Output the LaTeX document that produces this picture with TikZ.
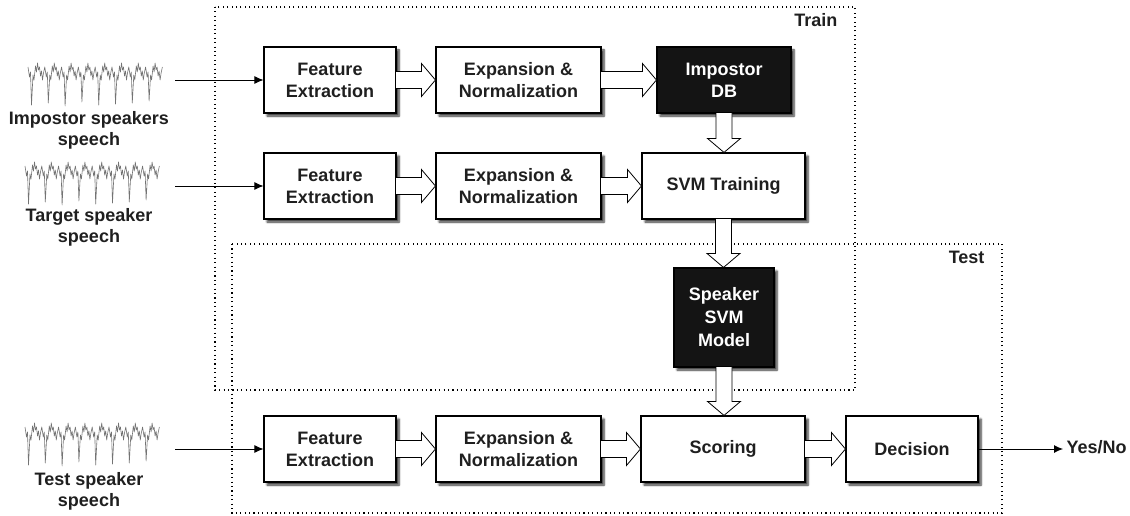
\documentclass[tikz,border=0pt]{standalone}
\usepackage{fontspec}
\setmainfont{Liberation Sans}
\usetikzlibrary{calc,arrows.meta,shadows.blur}

% one voiced speech segment: eight pitch periods with sharp dips
\newcommand\speechwave[2]{%
  \begin{scope}[shift={(#1,#2)}]
    \draw[wave] (0,4)
      \foreach \i/\d [evaluate=\i as \o using \i*16.8] in {0/42,1/40,2/43,3/39,4/42,5/41,6/40,7/38}{
        -- (\o+1.5,14) -- (\o+2.5,9) -- (\o+3.5,\d) -- (\o+5,12) -- (\o+6,17)
        -- (\o+7.5,3) -- (\o+8.5,9) -- (\o+9.5,0) -- (\o+10.5,7) -- (\o+11.5,4)
        -- (\o+12.5,13) -- (\o+13.5,8) -- (\o+14.5,17) -- (\o+15.5,10) -- (\o+16.8,4)
      };
  \end{scope}}

% wide hollow arrow between two boxes, left to right
\newcommand\harrow[2]{%
  \draw[hollow] let \p1=(#1.east), \p2=(#2.west) in
    (\x1-0.5pt,\y1+8.5pt) -- (\x2-14pt,\y1+8.5pt) -- (\x2-14pt,\y1+16.5pt)
    -- (\x2,\y1) -- (\x2-14pt,\y1-16.5pt) -- (\x2-14pt,\y1-8.5pt) -- (\x1-0.5pt,\y1-8.5pt);}

% wide hollow arrow between two boxes, top to bottom
\newcommand\varrow[2]{%
  \draw[hollow] let \p1=(#1.south), \p2=(#2.north) in
    (\x1-8pt,\y1+0.5pt) -- (\x1-8pt,\y2+14pt) -- (\x1-16.5pt,\y2+14pt)
    -- (\x1,\y2) -- (\x1+16.5pt,\y2+14pt) -- (\x1+8pt,\y2+14pt) -- (\x1+8pt,\y1+0.5pt);}

\begin{document}
\begin{tikzpicture}[x=1pt,y=-1pt,
  every node/.style={font=\fontsize{18}{22}\selectfont\bfseries, text=black!88},
  box/.style={draw=black, line width=1.1pt, fill=white, align=center, inner sep=0pt,
    blur shadow={shadow xshift=3pt, shadow yshift=-3pt, shadow blur radius=2pt,
      shadow blur steps=6, shadow opacity=80}},
  darkbox/.style={box, fill=black!92, text=white},
  label/.style={align=center, font=\fontsize{18}{21}\selectfont\bfseries},
  region/.style={line width=1.1pt, dash pattern=on 1.1pt off 3.3pt},
  hollow/.style={draw=black, fill=white, line width=0.8pt, line join=miter},
  thinarrow/.style={line width=0.9pt, -{Latex[length=9pt,width=8pt]}},
  wave/.style={draw=black!55, line width=0.6pt, line join=round}]

\useasboundingbox (0,0) rectangle (1130,516);

% training and test regions
\draw[region] (215,7) rectangle (855,390);
\draw[region] (232,244) rectangle (1002,513);
\node[anchor=base east] (trainlbl) at (841,27) {Train};
\node[anchor=base east] (testlbl) at (988,263) {Test};

% speech inputs
\speechwave{28}{63}
\speechwave{25}{162}
\speechwave{25}{423}
\node[label] (implbl) at (89,130) {Impostor speakers\\speech};
\node[label] (tarlbl) at (89,227) {Target speaker\\speech};
\node[label] (tstlbl) at (89,491) {Test speaker\\speech};
\coordinate (src1) at (175,80);
\coordinate (src2) at (175,186);
\coordinate (src3) at (175,449);

% processing blocks
\node[box, minimum width=132pt, minimum height=66pt] (fe1) at (330,80) {Feature\\Extraction};
\node[box, minimum width=165pt, minimum height=66pt] (ex1) at (518.5,80) {Expansion \&\\Normalization};
\node[darkbox, minimum width=134pt, minimum height=66pt] (imp) at (724,80) {Impostor\\DB};

\node[box, minimum width=132pt, minimum height=66pt] (fe2) at (330,186) {Feature\\Extraction};
\node[box, minimum width=165pt, minimum height=66pt] (ex2) at (518.5,186) {Expansion \&\\Normalization};
\node[box, minimum width=163pt, minimum height=66pt] (svm) at (723.5,186) {SVM Training};

\node[darkbox, minimum width=100pt, minimum height=99pt,
  font=\fontsize{18}{23}\selectfont\bfseries] (model) at (724,317.5) {Speaker\\SVM\\Model};

\node[box, minimum width=132pt, minimum height=66pt] (fe3) at (330,449) {Feature\\Extraction};
\node[box, minimum width=165pt, minimum height=66pt] (ex3) at (518.5,449) {Expansion \&\\Normalization};
\node[box, minimum width=164pt, minimum height=66pt] (score) at (723,449) {Scoring};
\node[box, minimum width=132pt, minimum height=66pt] (dec) at (912,449) {Decision};

\node[anchor=west] (yn) at (1063,447) {Yes/No};

% signal connectors
\draw[thinarrow] (src1) -- (fe1.west);
\draw[thinarrow] (src2) -- (fe2.west);
\draw[thinarrow] (src3) -- (fe3.west);
\draw[thinarrow] (dec.east) -- (dec.east -| yn.west);

% data flow between blocks
\harrow{fe1}{ex1}
\harrow{ex1}{imp}
\harrow{fe2}{ex2}
\harrow{ex2}{svm}
\harrow{fe3}{ex3}
\harrow{ex3}{score}
\harrow{score}{dec}
\varrow{imp}{svm}
\varrow{svm}{model}
\varrow{model}{score}

\end{tikzpicture}
\end{document}
